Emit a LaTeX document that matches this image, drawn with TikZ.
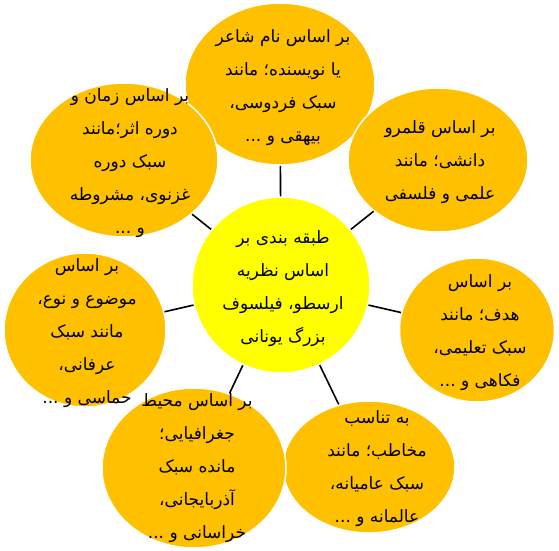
\documentclass[tikz,border=0pt]{standalone}
\usepackage{fontspec}
\usetikzlibrary{shapes.geometric}
\TeXXeTstate=1
\newfontfamily\arabicfont[Script=Arabic]{DejaVu Sans}
\newcommand\rl[1]{\beginR #1\endR}
\definecolor{gold}{HTML}{FFC000}
\definecolor{yel}{HTML}{FFFF00}
\tikzset{
  blob/.style={ellipse, fill=gold, draw=white, line width=1.5pt, inner sep=0pt},
  hub/.style={ellipse, fill=yel, draw=white, line width=1.5pt, inner sep=0pt},
  txt/.style={align=center, inner sep=0pt, font=\arabicfont\fontsize{17}{33}\selectfont},
  link/.style={draw=black, line width=1.6pt}
}
\begin{document}
\begin{tikzpicture}[x=1pt,y=-1pt]
\useasboundingbox (0,0) rectangle (559,550);
% shapes
\node[blob, minimum width=190pt, minimum height=162pt] (t) at (280,84) {};
\node[blob, minimum width=180pt, minimum height=144pt] (tr) at (438,160) {};
\node[blob, minimum width=188pt, minimum height=154pt] (tl) at (124,160) {};
\node[blob, minimum width=155pt, minimum height=144pt] (r) at (477,330) {};
\node[blob, minimum width=172pt, minimum height=132pt] (br) at (369,467) {};
\node[blob, minimum width=184pt, minimum height=160pt] (bl) at (194,468) {};
\node[blob, minimum width=162pt, minimum height=154pt] (l) at (85,330) {};
\node[hub, minimum width=178pt, minimum height=176pt] (c) at (281,285) {};
% connectors
\draw[link] (c) -- (t);
\draw[link] (c) -- (tl);
\draw[link] (c) -- (tr);
\draw[link] (c) -- (l);
\draw[link] (c) -- (r);
\draw[link] (c) -- (bl);
\draw[link] (c) -- (br);
% texts
\node[txt] (tt) at (283,88) {\rl{بر اساس نام شاعر}\\\rl{یا نویسنده؛ مانند}\\\rl{سبک فردوسی،}\\\rl{بیهقی و ...}};
\node[txt] (ttl) at (130,163) {\rl{بر اساس زمان و}\\\rl{دوره اثر؛مانند}\\\rl{سبک دوره}\\\rl{غزنوی، مشروطه}\\\rl{و ...}};
\node[txt] (ttr) at (440,162) {\rl{بر اساس قلمرو}\\\rl{دانشی؛ مانند}\\\rl{علمی و فلسفی}};
\node[txt] (tc) at (283,289) {\rl{طبقه بندی بر}\\\rl{اساس نظریه}\\\rl{ارسطو، فیلسوف}\\\rl{بزرگ یونانی}};
\node[txt] (tl2) at (87,333) {\rl{بر اساس}\\\rl{موضوع و نوع،}\\\rl{مانند سبک}\\\rl{عرفانی،}\\\rl{حماسی و ...}};
\node[txt] (tr2) at (480,333) {\rl{بر اساس}\\\rl{هدف؛ مانند}\\\rl{سبک تعلیمی،}\\\rl{فکاهی و ...}};
\node[txt] (tbl) at (197,468) {\rl{بر اساس محیط}\\\rl{جغرافیایی؛}\\\rl{مانده سبک}\\\rl{آذربایجانی،}\\\rl{خراسانی و ...}};
\node[txt] (tbr) at (377,469) {\rl{به تناسب}\\\rl{مخاطب؛ مانند}\\\rl{سبک عامیانه،}\\\rl{عالمانه و ...}};
\end{tikzpicture}
\end{document}
